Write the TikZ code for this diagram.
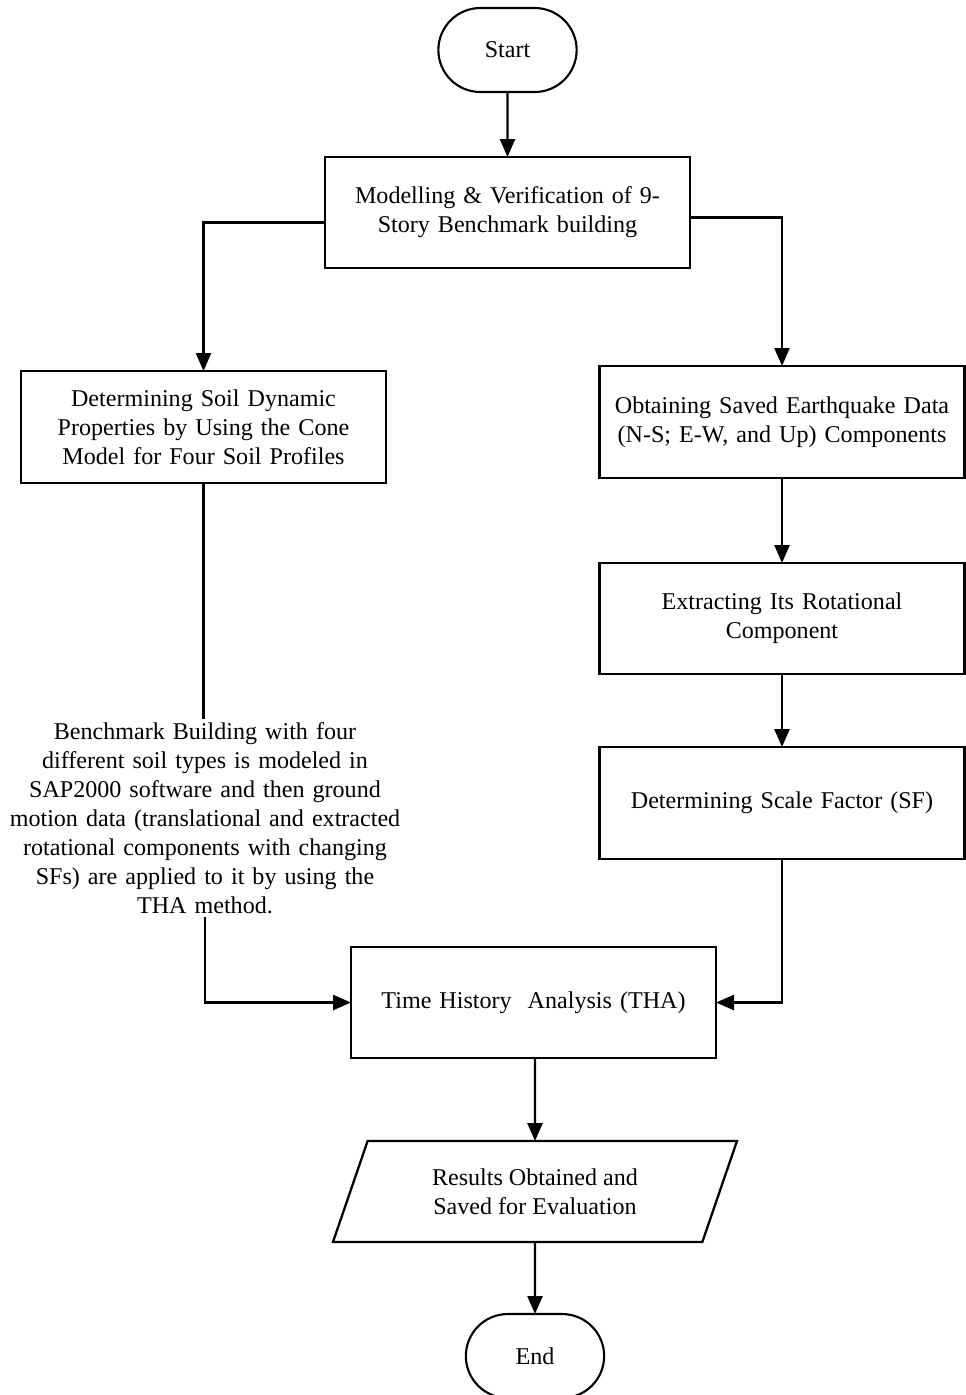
\documentclass[tikz,border=0pt]{standalone}
\usepackage{fontspec}
\setmainfont{Liberation Serif}
\usetikzlibrary{positioning, arrows.meta, shapes.misc, shapes.geometric}

\begin{document}
\begin{tikzpicture}[
        node distance=1.3cm and 1cm,
        every node/.style={font=\fontsize{13.7}{16.5}\selectfont, outer sep=0pt},
        terminal/.style={rounded rectangle, draw, line width=1.2pt, minimum width=3cm, minimum height=1.68cm},
        process/.style={rectangle, draw, line width=1.3pt, text width=6.9cm, align=center, minimum width=7.3cm, minimum height=2.22cm},
        io/.style={trapezium, trapezium left angle=59, trapezium right angle=121, trapezium stretches body, draw, line width=1.3pt, align=center, minimum width=8.08cm, minimum height=2.02cm},
        note/.style={text width=8cm, align=center, inner sep=2pt},
        arrow/.style={draw, line width=1.4pt, -{Triangle[length=0.36cm, width=0.3cm]}},
        link/.style={draw, line width=1.4pt}
    ]
    \useasboundingbox (0,0) rectangle (19.3,-27.9);

    % Nodes
    \node (start) [terminal] at (10.15,-1.0) {Start};
    \node (model) [process, below=1.3cm of start] {Modelling \& Verification of 9-\\ Story Benchmark building};
    \node (soil) [process, below=2.06cm of model, xshift=-6.08cm, minimum height=2.24cm] {Determining Soil Dynamic\\ Properties by Using the Cone\\ Model for Four Soil Profiles};
    \node (obtain) [process, below=1.96cm of model, xshift=5.49cm, minimum height=2.24cm] {Obtaining Saved Earthquake Data\\ (N-S; E-W, and Up) Components};
    \node (extract) [process, below=1.7cm of obtain] {Extracting Its Rotational\\ Component};
    \node (scale) [process, below=1.46cm of extract, minimum height=2.24cm] {Determining Scale Factor (SF)};
    \node (bench) [note] at (4.1,-16.36) {Benchmark Building with four\\ different soil types is modeled in\\ SAP2000 software and then ground\\ motion data (translational and extracted\\ rotational components with changing\\ SFs) are applied to it by using the\\ THA method.};
    \node (tha) [process, below=1.76cm of scale, xshift=-4.97cm] {Time History~ Analysis (THA)};
    \node (results) [io, below=1.66cm of tha, xshift=0.03cm] {Results Obtained and\\ Saved for Evaluation};
    \node (end) [terminal, below=1.44cm of results] {End};

    % Arrows
    \draw [arrow] (start) -- (model);
    \draw [arrow] ([yshift=-0.2cm]model.west) -| (soil.north);
    \draw [arrow] ([yshift=-0.1cm]model.east) -| (obtain.north);
    \draw [arrow] (obtain) -- (extract);
    \draw [arrow] (extract) -- (scale);
    \draw [link] (soil.south) -- (soil.south |- bench.north);
    \draw [arrow] (bench.south) |- (tha.west);
    \draw [arrow] (scale.south) |- (tha.east);
    \draw [arrow] (tha.south -| results.north) -- (results);
    \draw [arrow] (results) -- (end);

\end{tikzpicture}
\end{document}
